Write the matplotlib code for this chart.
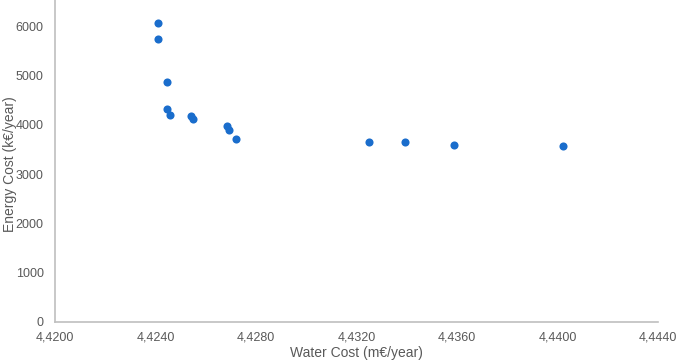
import matplotlib

matplotlib.use("Agg")
import matplotlib.pyplot as plt
from matplotlib.ticker import FuncFormatter, MultipleLocator

plt.rcParams["font.family"] = ["Liberation Sans", "DejaVu Sans"]

# Pareto front: water cost (m€/year) vs energy cost (k€/year)
water_cost = [4.42411, 4.42411, 4.42445, 4.42445, 4.42456, 4.42541, 4.42548,
              4.42686, 4.42691, 4.42722, 4.43249, 4.43392, 4.43588, 4.44023]
energy_cost = [6067, 5737, 4859, 4318, 4190, 4176, 4115,
               3973, 3892, 3716, 3643, 3643, 3582, 3574]

TEXT = "#595959"
AXIS = "#bfbfbf"

fig = plt.figure(figsize=(6.78, 3.64), dpi=100)
ax = fig.add_axes([0.081, 0.1154, 0.8895, 0.8846])

ax.scatter(water_cost, energy_cost, s=34, color="#1a6dcc", zorder=3, linewidths=0)

ax.set_xlim(4.4200, 4.4440)
ax.set_ylim(0, 6530)
ax.xaxis.set_major_locator(MultipleLocator(0.004))
ax.yaxis.set_major_locator(MultipleLocator(1000))
ax.xaxis.set_major_formatter(FuncFormatter(lambda v, _: f"{v:.4f}".replace(".", ",")))
ax.yaxis.set_major_formatter(FuncFormatter(lambda v, _: f"{v:.0f}" if v <= 6000 else ""))

for side in ("top", "right"):
    ax.spines[side].set_visible(False)
for side in ("left", "bottom"):
    ax.spines[side].set_color(AXIS)
    ax.spines[side].set_linewidth(1.2)

ax.tick_params(axis="both", length=0, labelsize=9, labelcolor=TEXT)
ax.tick_params(axis="y", pad=8)
ax.tick_params(axis="x", pad=7)

ax.set_xlabel("Water Cost (m€/year)", fontsize=10, color=TEXT, labelpad=2)
ax.set_ylabel("Energy Cost (k€/year)", fontsize=10, color=TEXT, va="center")
ax.yaxis.set_label_coords(-0.074, 0.49)

fig.savefig("out.png", dpi=100)
